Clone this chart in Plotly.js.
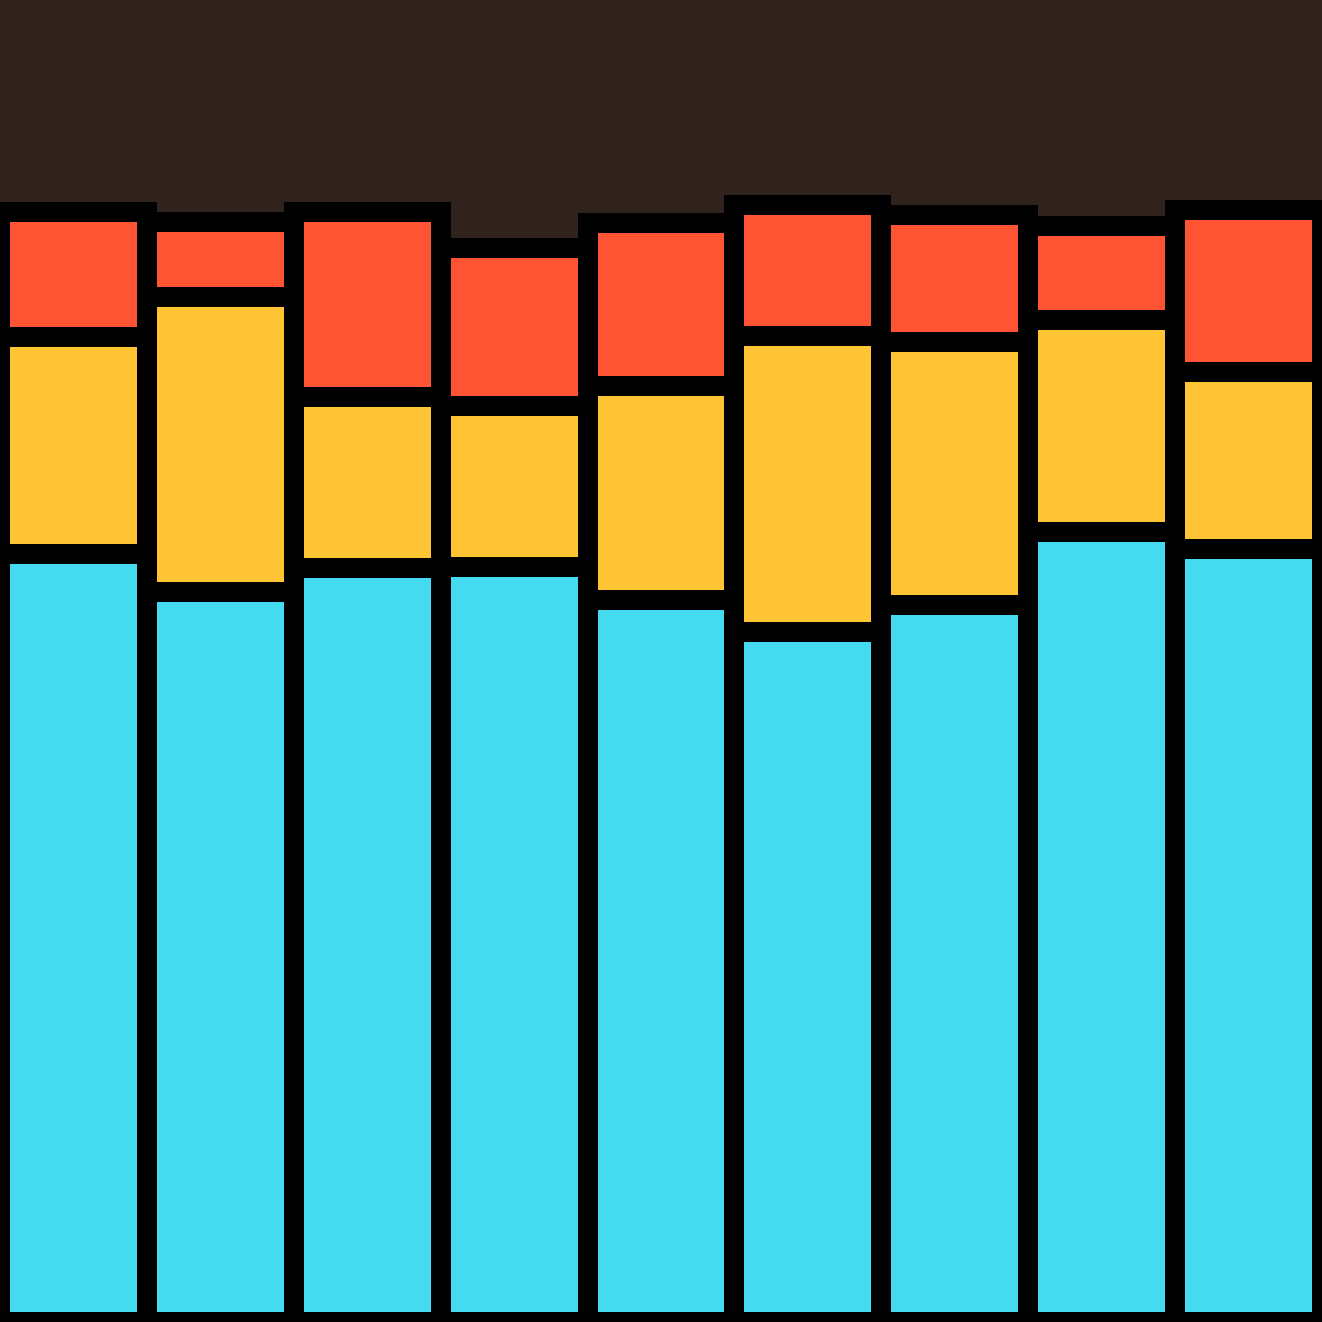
<!DOCTYPE html>
<html>
<head>
<meta charset="utf-8">
<script src="https://cdn.plot.ly/plotly-3.0.1.min.js"></script>
<style>html,body{margin:0;padding:0;background:#30221c;}</style>
</head>
<body>
<div id="chart" style="width:1322px;height:1322px;"></div>
<script>
const categories = ["1", "2", "3", "4", "5", "6", "7", "8", "9"];
const blueValues = [76.8, 73.0, 75.4, 75.5, 72.2, 69.0, 71.7, 79.0, 77.3];
const yellowValues = [21.7, 29.5, 17.1, 16.1, 21.4, 29.6, 26.3, 21.2, 17.7];
const redValues = [12.5, 7.5, 18.5, 15.8, 16.3, 13.1, 12.7, 9.4, 16.2];

const line = {color: "#000000", width: 20};
const traces = [
  {type: "bar", x: categories, y: blueValues, marker: {color: "#44dbf0", line: line}, hoverinfo: "none"},
  {type: "bar", x: categories, y: yellowValues, marker: {color: "#ffc434", line: line}, hoverinfo: "none"},
  {type: "bar", x: categories, y: redValues, marker: {color: "#ff5434", line: line}, hoverinfo: "none"}
];

const layout = {
  width: 1322, height: 1322,
  margin: {l: 0, r: 0, t: 0, b: 0, pad: 0},
  paper_bgcolor: "#30221c",
  plot_bgcolor: "#30221c",
  barmode: "stack",
  bargap: 0,
  showlegend: false,
  xaxis: {visible: false, range: [-0.5, 8.5], type: "category", fixedrange: true},
  yaxis: {visible: false, range: [0, 132.2], fixedrange: true}
};

Plotly.newPlot("chart", traces, layout, {displayModeBar: false, staticPlot: true});
</script>
</body>
</html>
